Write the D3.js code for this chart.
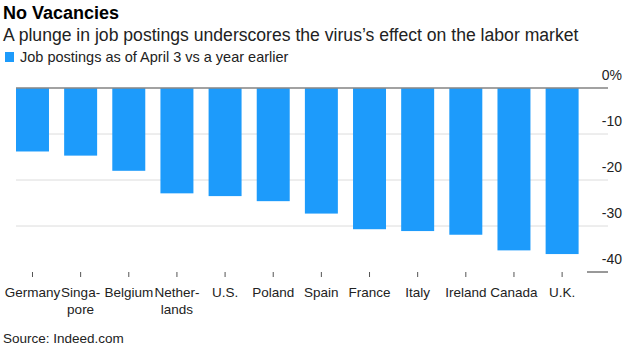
<!DOCTYPE html>
<html>
<head>
<meta charset="utf-8">
<script src="https://cdn.jsdelivr.net/npm/d3@7"></script>
<style>
  body { margin: 0; background: #fff; }
  svg text { font-family: "Liberation Sans", Arial, Helvetica, sans-serif; }
</style>
</head>
<body>
<div id="chart"></div>
<script>
// values (job postings as of April 3 vs a year earlier, %)
const countries = ["Germany", "Singa-|pore", "Belgium", "Nether-|lands", "U.S.", "Poland",
  "Spain", "France", "Italy", "Ireland", "Canada", "U.K."];
const postings = [-13.8, -14.7, -18.0, -22.9, -23.5, -24.6, -27.3, -30.7, -31.1, -31.9, -35.3, -36.1];
const yTicks = [0, -10, -20, -30, -40];

const width = 627;
const height = 350;

const svg = d3.select("#chart")
  .append("svg")
  .attr("width", width)
  .attr("height", height);

// titles
svg.append("text")
  .attr("x", 3).attr("y", 19)
  .attr("font-size", 18).attr("font-weight", "bold")
  .attr("fill", "#000")
  .text("No Vacancies");

svg.append("text")
  .attr("x", 3).attr("y", 41)
  .attr("font-size", 17.6)
  .attr("fill", "#222")
  .text("A plunge in job postings underscores the virus\u2019s effect on the labor market");

// legend
svg.append("rect")
  .attr("x", 5).attr("y", 52)
  .attr("width", 9).attr("height", 10)
  .attr("fill", "#1d9bfb");
svg.append("text")
  .attr("x", 20).attr("y", 62)
  .attr("font-size", 14.5)
  .attr("fill", "#222")
  .text("Job postings as of April 3 vs a year earlier");

const x = d3.scaleBand()
  .domain(countries)
  .range([16, 578.6])
  .paddingInner(0.315)
  .paddingOuter(0);

const y = d3.scaleLinear()
  .domain([0, -40])
  .range([88, 272]);

// gridlines (the -40 one is only a short stub under its label)
svg.append("g")
  .selectAll("line")
  .data(yTicks)
  .join("line")
  .attr("x1", d => d === -40 ? 587 : 16)
  .attr("x2", 608)
  .attr("y1", d => y(d))
  .attr("y2", d => y(d))
  .attr("stroke", d => d === -40 ? "#333" : "#dcdcdc")
  .attr("stroke-width", 1);

// bars
svg.append("g")
  .selectAll("rect")
  .data(postings)
  .join("rect")
  .attr("x", (d, i) => x(countries[i]))
  .attr("y", y(0))
  .attr("width", x.bandwidth())
  .attr("height", d => y(d) - y(0))
  .attr("fill", "#1d9bfb");

// zero line
svg.append("line")
  .attr("x1", 16).attr("x2", 608)
  .attr("y1", y(0)).attr("y2", y(0))
  .attr("stroke", "#888")
  .attr("stroke-width", 1.5);

// y labels sit above their line, right side
svg.append("g")
  .selectAll("text")
  .data(yTicks)
  .join("text")
  .attr("x", 622)
  .attr("y", d => y(d) - 8)
  .attr("text-anchor", "end")
  .attr("font-size", 14)
  .attr("fill", "#222")
  .text(d => d === 0 ? "0%" : d);

// x ticks + labels
const xg = svg.append("g");
xg.selectAll("line")
  .data(countries)
  .join("line")
  .attr("x1", d => x(d) + x.bandwidth() / 2)
  .attr("x2", d => x(d) + x.bandwidth() / 2)
  .attr("y1", 272)
  .attr("y2", 277)
  .attr("stroke", "#555");

xg.selectAll("text")
  .data(countries)
  .join("text")
  .attr("x", d => x(d) + x.bandwidth() / 2)
  .attr("y", 297)
  .attr("text-anchor", "middle")
  .attr("font-size", 13.5)
  .attr("fill", "#222")
  .each(function (d) {
    const parts = d.split("|");
    d3.select(this).selectAll("tspan")
      .data(parts)
      .join("tspan")
      .attr("x", x(d) + x.bandwidth() / 2)
      .attr("dy", (p, i) => i === 0 ? 0 : 16.5)
      .text(p => p);
  });

svg.append("text")
  .attr("x", 3).attr("y", 343)
  .attr("font-size", 13.5)
  .attr("fill", "#222")
  .text("Source: Indeed.com");
</script>
</body>
</html>
